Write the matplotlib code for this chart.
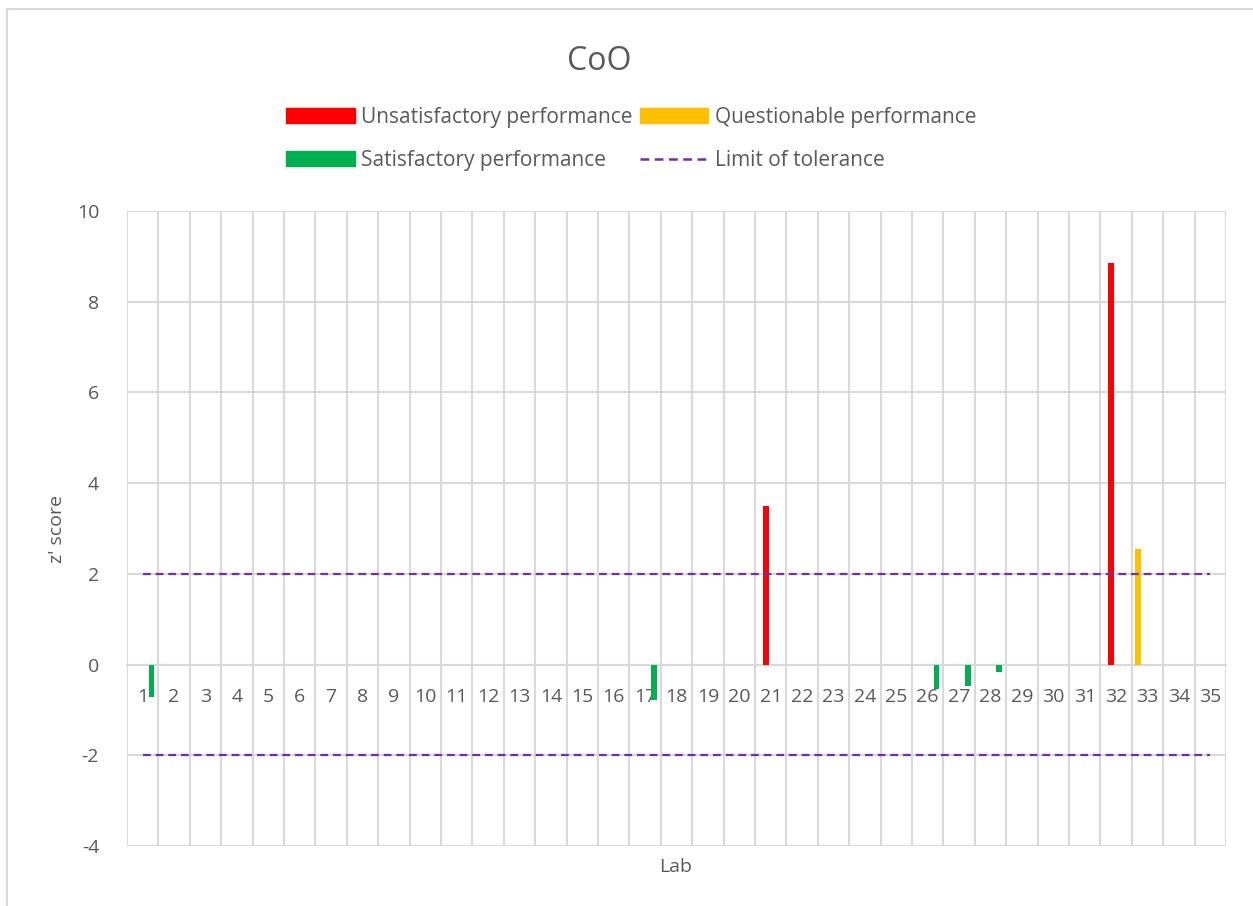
import numpy as np
import matplotlib.pyplot as plt
from matplotlib.patches import Patch, Rectangle
from matplotlib.lines import Line2D

plt.rcParams['font.family'] = ['Open Sans', 'DejaVu Sans']
plt.rcParams['axes.unicode_minus'] = False

labs = list(range(1, 36))
unsat = {21: 3.5, 32: 8.85}
quest = {33: 2.55}
sat = {1: -0.71, 17: -0.79, 26: -0.53, 27: -0.48, 28: -0.17}
limit = 2

red = '#FF0000'
yellow = '#FFC000'
green = '#00B050'
purple = '#7030A0'
txt = '#595959'
grid = '#D9D9D9'

fig = plt.figure(figsize=(12.53, 9.06), dpi=100)
ax = fig.add_axes([127/1253, 1-846/906, (1226-127)/1253, (846-211)/906])

w = 0.19
ax.bar([k - 0.15 for k in unsat], list(unsat.values()), width=w, color=red, zorder=3)
ax.bar([k - 0.30 for k in quest], list(quest.values()), width=w, color=yellow, zorder=3)
ax.bar([k + 0.28 for k in sat], list(sat.values()), width=w, color=green, zorder=3)

dash = (0, (3.5, 2.2))
ax.plot([labs[0], labs[-1]], [limit, limit], color=purple, lw=1.6, ls=dash, zorder=4)
ax.plot([labs[0], labs[-1]], [-limit, -limit], color=purple, lw=1.6, ls=dash, zorder=4)

ax.set_xlim(0.5, 35.5)
ax.set_ylim(-4, 10)
ax.set_yticks(np.arange(-4, 11, 2))
ax.set_xticks(labs)
ax.set_xticks(np.arange(0.5, 36, 1), minor=True)
ax.grid(axis='y', color=grid, lw=1.5, zorder=0)
ax.grid(axis='x', which='minor', color=grid, lw=1.5, zorder=0)
ax.grid(axis='x', which='major', visible=False)
for s in ['top', 'right', 'left']:
    ax.spines[s].set_visible(False)
ax.spines['bottom'].set_position(('data', 0))
ax.spines['bottom'].set_color(grid)
ax.spines['bottom'].set_linewidth(1.5)
ax.tick_params(axis='both', which='both', length=0, colors=txt, labelsize=14)
ax.tick_params(axis='x', pad=17)
ax.tick_params(axis='y', pad=20)

fig.text(599/1253, 1-62/906, 'CoO', ha='center', va='center', fontsize=23, color=txt)
fig.text(676/1253, 1-867/906, 'Lab', ha='center', va='center', fontsize=14, color=txt)
fig.text(57/1253, 1-529/906, "z' score", ha='center', va='center', fontsize=14, color=txt, rotation=90)

# legend filled column by column: red, green | yellow, dashed line
handles = [Patch(color=red), Patch(color=green), Patch(color=yellow),
           Line2D([0], [0], color=purple, lw=1.8, ls=dash)]
names = ['Unsatisfactory performance', 'Satisfactory performance',
         'Questionable performance', 'Limit of tolerance']
leg = fig.legend(handles, names, ncol=2, loc='center', bbox_to_anchor=(631/1253, 1-139/906),
                 frameon=False, fontsize=15, handlelength=3.3, handleheight=0.72,
                 handletextpad=0.3, columnspacing=0.35, labelspacing=1.05, labelcolor=txt)

fig.patches.append(Rectangle((7/1253, -0.1), 1.2, 1.1-9/906, transform=fig.transFigure,
                             fill=False, edgecolor=grid, lw=1.5))

fig.savefig('out.png', dpi=100)
